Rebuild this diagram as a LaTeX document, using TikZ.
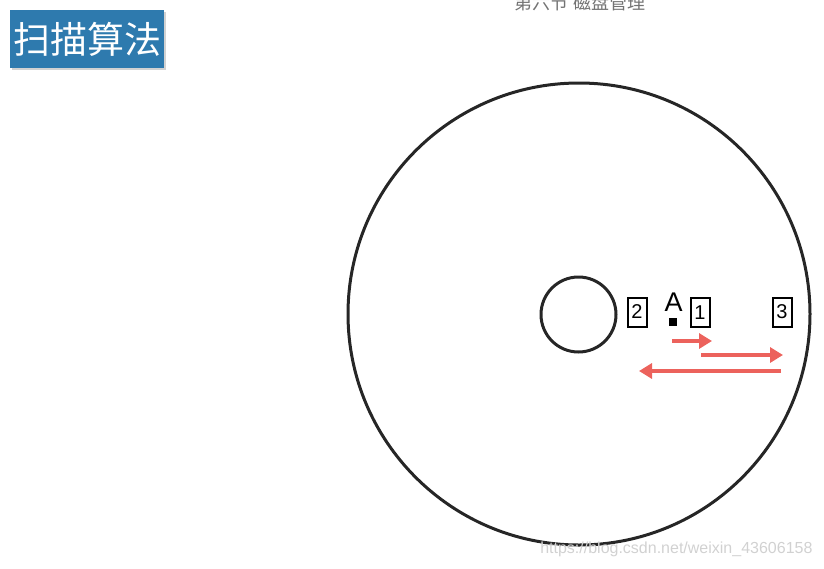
\documentclass[tikz,border=0pt]{standalone}
\usepackage{fontspec}
\setmainfont{Liberation Sans}
\newfontfamily\cjk{Noto Sans CJK SC}
\usetikzlibrary{arrows.meta,shadows}
\definecolor{titleblue}{RGB}{46,122,174}
\definecolor{arrowred}{RGB}{236,98,92}
\tikzset{
  numbox/.style={draw=black,line width=2pt,fill=white,minimum width=19pt,minimum height=29pt,inner sep=0pt,font=\fontsize{20}{20}\selectfont,drop shadow={shadow xshift=1.2pt,shadow yshift=-1.2pt,fill=gray!60}},
  redarrow/.style={draw=arrowred,line width=3.2pt,-{Triangle[length=13pt,width=15pt]}},
  disk/.style={draw=black!85,line width=3pt}
}
\begin{document}
\begin{tikzpicture}[x=1pt,y=-1pt]
\useasboundingbox (0,0) rectangle (824,568);
% header
\node[text=black!55,font=\cjk\fontsize{18}{18}\selectfont,anchor=center] (hdr) at (580,3) {第六节 磁盘管理};
% title
\node[fill=titleblue,text=white,minimum width=154pt,minimum height=58pt,inner sep=0pt,font=\cjk\fontsize{37}{37}\selectfont,anchor=north west,drop shadow={shadow xshift=1.5pt,shadow yshift=-2pt,fill=gray!70}] (title) at (10,10) {扫描算法};
% disk
\node[disk,circle,minimum size=462pt,inner sep=0pt] (outer) at (579,314) {};
\node[disk,circle,minimum size=75pt,inner sep=0pt] (inner) at (578.5,314.5) {};
% track boxes
\node[numbox] (b2) at (637,312) {2};
\node[numbox] (b1) at (700,312.5) {1};
\node[numbox] (b3) at (782,312) {3};
% head A
\node[font=\fontsize{27}{27}\selectfont,inner sep=0pt] (A) at (673.5,302) {A};
\node[fill=black,minimum size=8pt,inner sep=0pt] (sq) at (673,322) {};
% arrows
\coordinate (a1s) at (672,341); \coordinate (a1e) at (712,341);
\coordinate (a2s) at (701,355); \coordinate (a2e) at (783,355);
\coordinate (a3s) at (781,371); \coordinate (a3e) at (639,371);
\draw[redarrow] (a1s) -- (a1e);
\draw[redarrow] (a2s) -- (a2e);
\draw[redarrow] (a3s) -- (a3e);
% watermark
\node[text=black!18,font=\fontsize{16}{16}\selectfont,anchor=east] (wm) at (816,549) {https://blog.csdn.net/weixin\_43606158};
\end{tikzpicture}
\end{document}
